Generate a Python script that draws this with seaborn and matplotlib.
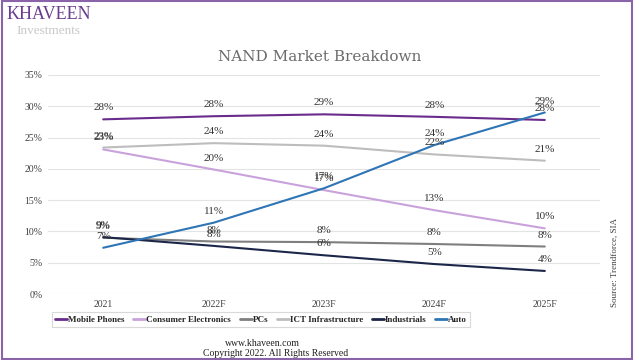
import numpy as np
import pandas as pd
import matplotlib
matplotlib.use("Agg")
import matplotlib.pyplot as plt
import matplotlib.ticker as ticker
from matplotlib.patches import Rectangle
import seaborn as sns

# datos (porcentaje del mercado NAND)
years = ["2021", "2022F", "2023F", "2024F", "2025F"]
mobile_phones = [27.9, 28.4, 28.7, 28.3, 27.8]
consumer_electronics = [23.1, 19.9, 16.6, 13.4, 10.5]
pcs = [9.0, 8.4, 8.3, 8.0, 7.6]
ict_infrastructure = [23.4, 24.1, 23.7, 22.3, 21.3]
industrials = [9.1, 7.7, 6.2, 4.8, 3.7]
auto = [7.4, 11.4, 16.9, 23.8, 29.0]

series = ["Mobile Phones", "Consumer Electronics", "PCs",
          "ICT Infrastructure", "Industrials", "Auto"]
colors = ["#6a2c8c", "#c9a2dc", "#7f7f7f", "#bdbdbd", "#1c2648", "#2e75b6"]

values = [mobile_phones, consumer_electronics, pcs,
          ict_infrastructure, industrials, auto]
df = pd.DataFrame({
    "year": years * len(series),
    "share": np.concatenate(values),
    "segment": np.repeat(series, len(years)),
})

sns.set_style("white")
plt.rcParams["font.family"] = ["Liberation Serif", "DejaVu Serif"]

fig = plt.figure(figsize=(6.4, 3.6), dpi=100)
ax = fig.add_axes([0.075, 0.183, 0.8625, 0.609])

sns.lineplot(data=df, x="year", y="share", hue="segment", hue_order=series,
             palette=colors, linewidth=1.5, sort=False, ax=ax, legend=False)

# etiquetas de valores sobre cada punto
for vals in values:
    for i, v in enumerate(vals):
        ax.annotate(f"{v:.0f}%", (i, v), xytext=(0, 5), textcoords="offset points",
                    ha="center", va="bottom", fontsize=8, color="#333333")

ax.set_xlim(-0.5, 4.5)
ax.set_ylim(0, 35)
ax.yaxis.set_major_locator(ticker.MultipleLocator(5))
ax.yaxis.set_major_formatter(ticker.FuncFormatter(lambda v, p: f"{v:.0f}%"))
ax.grid(axis="y", color="#e3e3e3", linewidth=0.8)
for s in ax.spines.values():
    s.set_visible(False)
ax.tick_params(axis="both", length=0, labelsize=7, colors="#404040", pad=4)
ax.set_xlabel("")
ax.set_ylabel("")

# leyenda
handles = [plt.Line2D([0], [0], color=c, linewidth=2) for c in colors]
leg = fig.legend(handles, series, loc="center", bbox_to_anchor=(0.408, 0.1125),
                 ncol=6, frameon=True, handlelength=1.3,
                 handletextpad=0.1, columnspacing=1.0, borderpad=0.35,
                 prop={"weight": "bold", "size": 6.5})
leg.get_frame().set_edgecolor("#d0d0d0")
leg.get_frame().set_linewidth(0.8)
leg.get_frame().set_boxstyle("square", pad=0)

fig.text(0.5, 0.842, "NAND Market Breakdown", ha="center", va="center",
         fontsize=11, color="#6b6b6b", family=["DejaVu Serif"])
fig.text(0.96, 0.272, "Source: Trendforce, SIA", rotation=90, ha="center",
         va="center", fontsize=6.5, color="#404040")

# logo y pie de pagina
fig.text(0.01, 0.96, "KHAVEEN", ha="left", va="center", fontsize=13,
         color="#6a3d8f")
fig.text(0.025, 0.915, "Investments", ha="left", va="center", fontsize=9.5,
         color="#c8c8c8")
fig.text(0.41, 0.047, "www.khaveen.com", ha="center", va="center",
         fontsize=7, color="#202020")
fig.text(0.43, 0.018, "Copyright 2022. All Rights Reserved", ha="center",
         va="center", fontsize=7, color="#202020")

fig.patches.append(Rectangle((0.003, 0.003), 0.984, 0.994, transform=fig.transFigure,
                             fill=False, edgecolor="#8a63a8", linewidth=1.5))

fig.savefig("out.png", dpi=100)
